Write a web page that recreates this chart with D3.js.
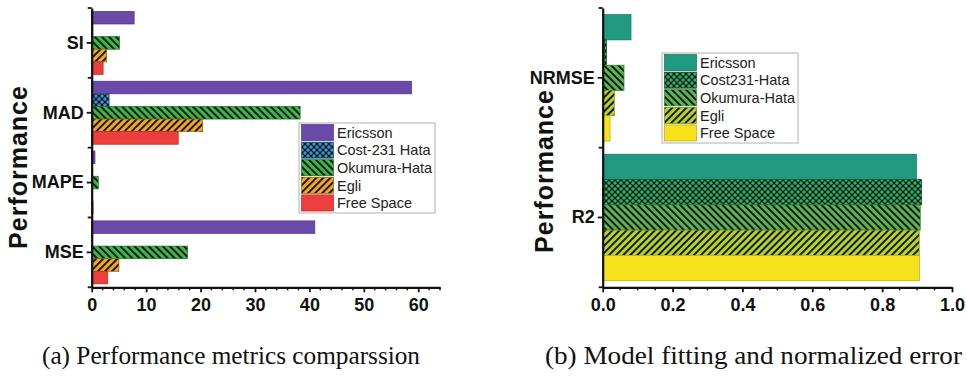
<!DOCTYPE html>
<html>
<head>
<meta charset="utf-8">
<script src="https://cdn.jsdelivr.net/npm/d3@7"></script>
<style>
  html, body { margin: 0; padding: 0; background: #fff; }
  svg { display: block; }
  .tick text { font-family: "Liberation Sans", Arial, sans-serif; font-weight: bold; fill: #111; }
  .legend text { font-family: "Liberation Sans", Arial, sans-serif; fill: #222; }
</style>
</head>
<body>
<svg id="chart" width="967" height="378"></svg>
<script>
// (a) error metrics per propagation model
const metricsA = ["SI", "MAD", "MAPE", "MSE"];
const modelsA = ["Ericsson", "Cost-231 Hata", "Okumura-Hata", "Egli", "Free Space"];
const ericssonA = [7.8, 58.8, 0.6, 41.0];
const cost231A = [0.2, 3.2, 0.05, 0.05];
const okumuraA = [5.1, 38.3, 1.2, 17.6];
const egliA = [2.75, 20.4, 0.1, 5.0];
const freeSpaceA = [2.1, 15.9, 0.25, 2.95];
const ticksA = [0, 10, 20, 30, 40, 50, 60];

// (b) goodness of fit and normalized error
const metricsB = ["NRMSE", "R2"];
const modelsB = ["Ericsson", "Cost231-Hata", "Okumura-Hata", "Egli", "Free Space"];
const ericssonB = [0.081, 0.898];
const cost231B = [0.011, 0.913];
const okumuraB = [0.061, 0.909];
const egliB = [0.033, 0.906];
const freeSpaceB = [0.021, 0.907];
const ticksB = [0, 0.2, 0.4, 0.6, 0.8, 1.0];

const captions = ["(a) Performance metrics comparssion", "(b) Model fitting and normalized error"];

const svg = d3.select("#chart");
const defs = svg.append("defs");

// fill patterns: solid, dot mesh, back-slash and forward-slash hatching
function stripePattern(id, color, angle) {
  const p = defs.append("pattern").attr("id", id)
    .attr("patternUnits", "userSpaceOnUse").attr("width", 5).attr("height", 5)
    .attr("patternTransform", `rotate(${angle})`);
  p.append("rect").attr("width", 5).attr("height", 5).attr("fill", color);
  p.append("rect").attr("x", 0).attr("width", 1.9).attr("height", 5).attr("fill", "#111");
  return `url(#${id})`;
}
function dotPattern(id, color) {
  const p = defs.append("pattern").attr("id", id)
    .attr("patternUnits", "userSpaceOnUse").attr("width", 6).attr("height", 6);
  p.append("rect").attr("width", 6).attr("height", 6).attr("fill", "#0d1a12");
  [[0, 0], [6, 0], [0, 6], [6, 6], [3, 3]].forEach(([cx, cy]) =>
    p.append("circle").attr("cx", cx).attr("cy", cy).attr("r", 1.75).attr("fill", color));
  return `url(#${id})`;
}

const fillsA = ["#6a4aa8", dotPattern("dotA", "#3b93e0"), stripePattern("bsA", "#3cb84a", -45),
  stripePattern("fsA", "#f2a825", 45), "#ee3d3d"];
const edgesA = ["#4f3786", "#1d4f7a", "#1f6a27", "#8f6110", "#b02a2a"];
const fillsB = ["#1f9a80", dotPattern("dotB", "#2fb36a"), stripePattern("bsB", "#5ab654", -45),
  stripePattern("fsB", "#b6d42c", 45), "#f6e31e"];
const edgesB = ["#14705c", "#0c4a27", "#2f7a2c", "#738a15", "#b8a814"];

function drawPanel(cfg) {
  const g = svg.append("g");
  const x = d3.scaleLinear().domain(cfg.domain).range([cfg.left, cfg.right]);
  const y = d3.scaleBand().domain(cfg.metrics).range([cfg.top, cfg.bottom]).padding(0);
  const sub = d3.scaleBand().domain(cfg.models).range([0, y.bandwidth()]).paddingOuter(cfg.outer).paddingInner(0);

  // bars
  cfg.models.forEach((m, i) => {
    g.append("g").selectAll("rect").data(cfg.series[i]).join("rect")
      .attr("x", x(0))
      .attr("y", (d, j) => y(cfg.metrics[j]) + sub(m))
      .attr("width", d => x(d) - x(0))
      .attr("height", sub.bandwidth())
      .attr("fill", cfg.fills[i])
      .attr("stroke", cfg.edges[i]).attr("stroke-width", 0.7);
  });

  // x axis: labelled major ticks + minor ticks
  const xa = g.append("g").attr("transform", `translate(0,${cfg.bottom})`)
    .call(d3.axisBottom(x).tickValues(cfg.ticks).tickFormat(cfg.fmt).tickSize(5).tickSizeOuter(0).tickPadding(6));
  xa.select(".domain").attr("stroke-width", 2.2).attr("stroke", "#111");
  xa.selectAll(".tick line").attr("stroke-width", 1.8).attr("stroke", "#111");
  xa.selectAll(".tick text").style("font-size", "18px");
  const minor = d3.range(cfg.domain[0], cfg.domain[1] + 1e-9, cfg.minorStep)
    .filter(v => !cfg.ticks.some(t => Math.abs(t - v) < 1e-9));
  g.append("g").attr("transform", `translate(0,${cfg.bottom})`)
    .selectAll("line").data(minor).join("line")
    .attr("x1", d => x(d)).attr("x2", d => x(d)).attr("y1", 0).attr("y2", 3)
    .attr("stroke", "#111").attr("stroke-width", 1.5);

  // y axis: category ticks at band centres, short ticks at band edges
  const ya = g.append("g").attr("transform", `translate(${cfg.left},0)`)
    .call(d3.axisLeft(y).tickSize(5).tickSizeOuter(0).tickPadding(3));
  ya.select(".domain").attr("stroke-width", 2.2).attr("stroke", "#111");
  ya.selectAll(".tick line").attr("stroke-width", 1.8).attr("stroke", "#111");
  ya.selectAll(".tick text").style("font-size", "18px");
  const edges = cfg.metrics.map(c => y(c)).concat([y.range()[1]]);
  g.append("g").selectAll("line").data(edges).join("line")
    .attr("x1", cfg.left - 4).attr("x2", cfg.left).attr("y1", d => d).attr("y2", d => d)
    .attr("stroke", "#111").attr("stroke-width", 1.8);

  // y title
  g.append("text")
    .attr("transform", `translate(${cfg.titleX},${cfg.titleY}) rotate(-90)`)
    .attr("text-anchor", "middle")
    .style("font-family", "'Liberation Sans', Arial, sans-serif").style("font-weight", "bold")
    .style("font-size", "25px").style("letter-spacing", "1px").attr("fill", "#111")
    .text("Performance");

  // legend
  const lg = g.append("g").attr("class", "legend").attr("transform", `translate(${cfg.legX},${cfg.legY})`);
  const rowH = 17.6;
  lg.append("rect").attr("width", 136).attr("height", rowH * cfg.models.length + 2)
    .attr("fill", "#fff").attr("stroke", "#b0b0b0").attr("stroke-width", 1);
  cfg.models.forEach((m, i) => {
    lg.append("rect").attr("x", 2.5).attr("y", 1.5 + i * rowH).attr("width", 32).attr("height", rowH - 1.5)
      .attr("fill", cfg.fills[i]).attr("stroke", cfg.edges[i]).attr("stroke-width", 0.7);
    lg.append("text").attr("x", 38).attr("y", 1 + i * rowH + rowH / 2 + 5)
      .style("font-size", "14.5px").text(m);
  });

  // caption
  svg.append("text").attr("x", cfg.capX).attr("y", 364)
    .attr("textLength", cfg.capW).attr("lengthAdjust", "spacingAndGlyphs")
    .style("font-family", "'Liberation Serif', 'Times New Roman', serif").style("font-size", "26px")
    .attr("fill", "#111").text(cfg.caption);
}

drawPanel({
  metrics: metricsA, models: modelsA,
  series: [ericssonA, cost231A, okumuraA, egliA, freeSpaceA],
  fills: fillsA, edges: edgesA,
  domain: [0, 64], ticks: ticksA, minorStep: 2, fmt: d3.format("d"),
  left: 91.7, right: 440, top: 8, bottom: 287.3, outer: 0.27,
  titleX: 27, titleY: 167, legX: 299, legY: 123, capX: 42, capW: 378, caption: captions[0]
});

drawPanel({
  metrics: metricsB, models: modelsB,
  series: [ericssonB, cost231B, okumuraB, egliB, freeSpaceB],
  fills: fillsB, edges: edgesB,
  domain: [0, 1], ticks: ticksB, minorStep: 0.05, fmt: d3.format(".1f"),
  left: 602.7, right: 952, top: 8, bottom: 287.3, outer: 0.26,
  titleX: 553, titleY: 171, legX: 662, legY: 53, capX: 545, capW: 417, caption: captions[1]
});
</script>
</body>
</html>
